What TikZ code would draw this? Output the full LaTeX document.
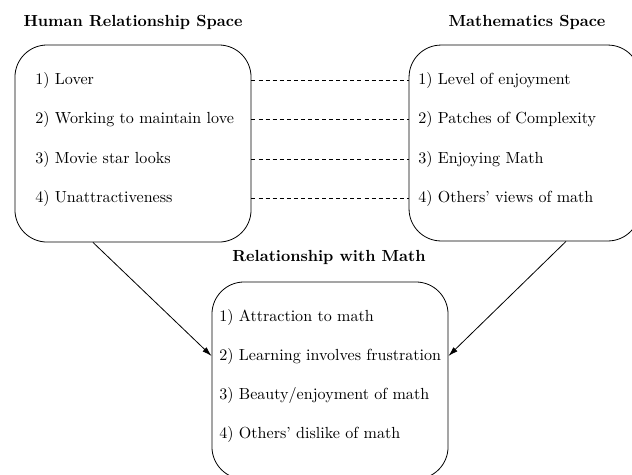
\documentclass[tikz,border=0pt]{standalone}
\usetikzlibrary{arrows.meta,calc}
\begin{document}
\begin{tikzpicture}[x=0.6227pt,y=-0.6227pt,
  box/.style={draw, line width=0.5pt, rounded corners=20pt, inner sep=0pt},
  item/.style={anchor=west, inner sep=0pt, text height=7.5pt, text depth=2.5pt, font=\normalsize},
  ttl/.style={font=\bfseries, inner sep=0pt},
  link/.style={line width=0.5pt, dash pattern=on 2.5pt off 1.9pt},
  arr/.style={line width=0.5pt, -{Latex[length=6pt,width=3.6pt]}}]
\useasboundingbox (0,0) rectangle (632,474);
\clip (0,0) rectangle (632,474);
% boxes
\node[box, minimum width=147pt, minimum height=122.7pt] (L) at (133,143.5) {};
\node[box, minimum width=143.8pt, minimum height=122pt] (R) at (524.5,143) {};
\node[box, minimum width=147pt, minimum height=122.7pt] (B) at (330,380.5) {};
% titles
\node[ttl] (tL) at (133,22) {Human Relationship Space};
\node[ttl] (tR) at (527,22) {Mathematics Space};
\node[ttl] (tB) at (329,257) {Relationship with Math};
% left items
\node[item] (L1) at (35,80) {1) Lover};
\node[item] (L2) at (35,119.5) {2) Working to maintain love};
\node[item] (L3) at (35,159) {3) Movie star looks};
\node[item] (L4) at (35,198.5) {4) Unattractiveness};
% right items
\node[item] (R1) at (418,80) {1) Level of enjoyment};
\node[item] (R2) at (418,119.5) {2) Patches of Complexity};
\node[item] (R3) at (418,159) {3) Enjoying Math};
\node[item] (R4) at (418,198.5) {4) Others' views of math};
% bottom items
\node[item] (B1) at (219,317) {1) Attraction to math};
\node[item] (B2) at (219,356) {2) Learning involves frustration};
\node[item] (B3) at (219,395) {3) Beauty/enjoyment of math};
\node[item] (B4) at (219,434) {4) Others' dislike of math};
% dashed links
\foreach \i in {1,2,3,4}{
  \draw[link] (L.east |- L\i) -- (R.west |- L\i);
}
% arrows
\draw[arr] ([xshift=-40*0.6227pt]L.south) -- (B.west |- B2);
\draw[arr] ([xshift=41.5*0.6227pt]R.south) -- (B.east |- B2);
\end{tikzpicture}
\end{document}
